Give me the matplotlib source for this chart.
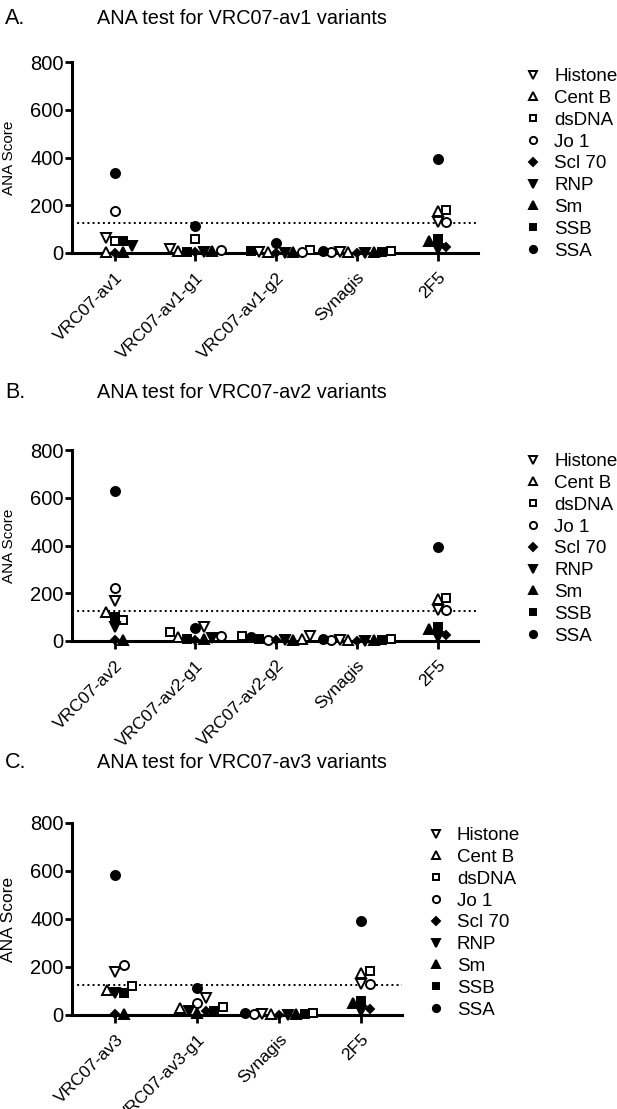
import numpy as np
import matplotlib
matplotlib.use('Agg')
import matplotlib.pyplot as plt
from matplotlib.lines import Line2D

plt.rcParams['font.family'] = ['Liberation Sans', 'DejaVu Sans']

# antigens measured in every sample
antigens = ['Histone', 'Cent B', 'dsDNA', 'Jo 1', 'Scl 70', 'RNP', 'Sm', 'SSB', 'SSA']

# ANA scores, one value per antigen (same order as above)
av1 = [61, 5, 50, 176, 2, 30, 3, 50, 333]
av1_g1 = [18, 10, 57, 14, 3, 5, 8, 6, 114]
av1_g2 = [5, 3, 14, 6, 2, 2, 4, 8, 42]
av2 = [168, 122, 87, 222, 5, 57, 5, 101, 627]
av2_g1 = [58, 15, 38, 22, 5, 12, 8, 10, 55]
av2_g2 = [20, 10, 22, 5, 3, 4, 6, 8, 18]
av3 = [180, 104, 121, 208, 3, 90, 5, 90, 583]
av3_g1 = [69, 29, 35, 51, 15, 17, 8, 18, 114]
synagis = [4, 3, 8, 5, 2, 2, 3, 4, 10]
ctrl_2f5 = [130, 175, 182, 130, 24, 17, 50, 60, 392]

cutoff = 125

names_a = ['VRC07-av1', 'VRC07-av1-g1', 'VRC07-av1-g2', 'Synagis', '2F5']
names_b = ['VRC07-av2', 'VRC07-av2-g1', 'VRC07-av2-g2', 'Synagis', '2F5']
names_c = ['VRC07-av3', 'VRC07-av3-g1', 'Synagis', '2F5']

# marker style per antigen: (marker, filled, size)
styles = {
    'Histone': ('v', False, 6.5),
    'Cent B': ('^', False, 6.5),
    'dsDNA': ('s', False, 6),
    'Jo 1': ('o', False, 6.5),
    'Scl 70': ('D', True, 4.5),
    'RNP': ('v', True, 6.5),
    'Sm': ('^', True, 6.5),
    'SSB': ('s', True, 6),
    'SSA': ('o', True, 6.5),
}

W, H = 617, 1109
fig = plt.figure(figsize=(W / 100, H / 100), dpi=100)


def swarm(vals, px_per_unit_y, step=8.5, dy_min=9.0, dx_min=8.0):
    # simple beeswarm in pixel space, returns x offsets in pixels
    vals = np.asarray(vals, float)
    ypx = vals * px_per_unit_y
    offs = np.zeros(len(vals))
    placed = []
    steps = [0, 1, -1, 2, -2, 3, -3, 4, -4, 5, -5]
    for i in np.argsort(vals, kind='stable'):
        for k in steps:
            x = k * step
            if all(abs(x - px) >= dx_min or abs(ypx[i] - py) >= dy_min for px, py in placed):
                break
        offs[i] = x
        placed.append((x, ypx[i]))
    return offs


def panel(letter, title, names, data, left, top, right, bottom, title_y, leg_x, leg_y, ylab_size):
    ax = fig.add_axes([left / W, 1 - bottom / H, (right - left) / W, (bottom - top) / H])
    n = len(names)
    ax.set_xlim(-0.53, n - 0.5)
    ax.set_ylim(0, 800)
    px_per_x = (right - left) / (n - 0.5 + 0.53)
    px_per_y = (bottom - top) / 800.0

    for gi, vals in enumerate(data):
        offs = swarm(vals, px_per_y)
        for ai, ant in enumerate(antigens):
            m, filled, ms = styles[ant]
            ax.plot(gi + offs[ai] / px_per_x, vals[ai], linestyle='none', marker=m,
                    markersize=ms, markeredgewidth=1.4, markeredgecolor='black',
                    markerfacecolor='black' if filled else 'white',
                    clip_on=False, zorder=4)

    ax.axhline(cutoff, color='black', linestyle=':', linewidth=1.4, zorder=1)

    for s in ['top', 'right']:
        ax.spines[s].set_visible(False)
    for s in ['left', 'bottom']:
        ax.spines[s].set_linewidth(2.2)
    ax.set_yticks([0, 200, 400, 600, 800])
    ax.set_xticks(range(n))
    ax.set_xticklabels(names, rotation=45, ha='right', rotation_mode='anchor', fontsize=12.5)
    ax.tick_params(axis='y', labelsize=14.5, length=5, width=2, pad=1)
    ax.tick_params(axis='x', length=6, width=2, pad=6)
    ax.set_ylabel('ANA Score', fontsize=ylab_size)
    ax.yaxis.set_label_coords((16 - left) / (right - left), 0.5)

    fig.text(5 / W, 1 - title_y / H, letter, fontsize=15.5, va='center', ha='left')
    fig.text(97 / W, 1 - title_y / H, title, fontsize=14.3, va='center', ha='left')

    handles = []
    for ant in antigens:
        m, filled, ms = styles[ant]
        handles.append(Line2D([], [], linestyle='none', marker=m, markersize=ms * 0.8,
                              markeredgewidth=1.4, markeredgecolor='black',
                              markerfacecolor='black' if filled else 'white'))
    fig.legend(handles, antigens, loc='upper left',
               bbox_to_anchor=(leg_x / W, 1 - leg_y / H), frameon=False,
               fontsize=13.5, handlelength=1.0, handletextpad=0.6,
               labelspacing=0.25, borderpad=0, borderaxespad=0)
    return ax


panel('A.', 'ANA test for VRC07-av1 variants', names_a,
      [av1, av1_g1, av1_g2, synagis, ctrl_2f5],
      72, 62, 478, 253, 18, 524, 68, 11)
panel('B.', 'ANA test for VRC07-av2 variants', names_b,
      [av2, av2_g1, av2_g2, synagis, ctrl_2f5],
      72, 450, 478, 641, 392, 524, 453, 11)
panel('C.', 'ANA test for VRC07-av3 variants', names_c,
      [av3, av3_g1, synagis, ctrl_2f5],
      72, 823, 402, 1015, 762, 427, 827, 12.5)

fig.savefig('out.png', dpi=100)
